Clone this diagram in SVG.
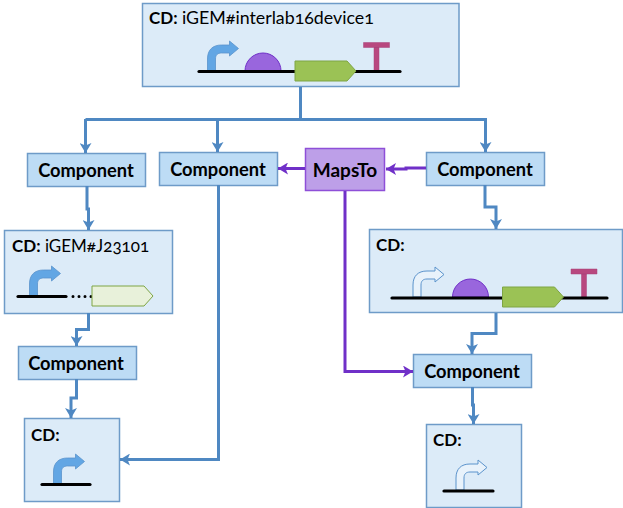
<svg xmlns="http://www.w3.org/2000/svg" width="623" height="508" viewBox="0 0 623 508">
<style>
text{font-family:"Lato","Open Sans","Liberation Sans",sans-serif;fill:#000;font-variant-numeric:oldstyle-nums}
.cd{fill:#dcebf8;stroke:#6e9bc8;stroke-width:1.5}
.comp{fill:#bddcf5;stroke:#6e9bc8;stroke-width:1.5}
.maps{fill:#bd9fe8;stroke:#8e4fd8;stroke-width:1.5}
.t{font-size:18.300px;font-weight:700;text-anchor:middle}
.l{font-size:17px}
.b{font-weight:700}
.bb{stroke:#000;stroke-width:3.200;stroke-linecap:round;fill:none}
.blue{fill:none;stroke:#4f88c2;stroke-width:3}
.purple{fill:none;stroke:#7030c8;stroke-width:3}
.prom{fill:#62a6e4;stroke:#5b93cc;stroke-width:.8}
.open{fill:#e8f2fb;stroke:#5b93cc;stroke-width:1}
.cds{fill:#9bc255;stroke:#7fa544;stroke-width:1}
.rbs{fill:#9966dd;stroke:#7030c8;stroke-width:1}
.term{fill:#b8487f;stroke:#a8437a;stroke-width:.5}
</style>
<defs>
<marker id="ab" markerUnits="userSpaceOnUse" markerWidth="12" markerHeight="12" refX="10" refY="6" orient="auto"><path d="M0 0L10 6L0 12L2.500 6Z" fill="#4f88c2"/></marker>
<marker id="ap" markerUnits="userSpaceOnUse" markerWidth="12" markerHeight="12" refX="10" refY="6" orient="auto"><path d="M0 0L10 6L0 12L2.500 6Z" fill="#7030c8"/></marker>
<path id="pr" d="M0 0V-12C0-21 5-26 14-26H22V-30L31-22.500L22-15V-18H14C10-18 8-16 8-12V0Z"/>
<path id="cdsp" d="M0 0H52L61 10L52 20H0Z"/>
<path id="domep" d="M0 0A18 18 0 0 1 36 0Z"/>
<path id="termp" d="M-13 0H13V5H-13ZM-2.500 5H2.500V29H-2.500Z"/>
</defs>
<g id="n-top">
<rect class="cd" x="142.500" y="3.500" width="316.500" height="83"/>
<text class="l" x="149" y="24"><tspan class="b">CD:</tspan> <tspan font-size="17.800">iGEM#interlab16device1</tspan></text>
<use href="#pr" class="prom" x="207.500" y="71"/>
<use href="#domep" class="rbs" x="245" y="71"/>
<use href="#termp" class="term" x="376.500" y="42.500"/>
<path class="bb" d="M199 71.500H400"/>
<use href="#cdsp" class="cds" x="295" y="61"/>
</g>
<g id="n-comp1"><rect class="comp" x="27.500" y="153.500" width="118" height="33"/><text class="t" x="86" y="176.500">Component</text></g>
<g id="n-comp2"><rect class="comp" x="159.500" y="152.500" width="118" height="33"/><text class="t" x="218" y="175.500">Component</text></g>
<g id="n-maps"><rect class="maps" x="305.500" y="148.500" width="79" height="42"/><text class="t" style="font-size:19px" x="345" y="176.500">MapsTo</text></g>
<g id="n-comp3"><rect class="comp" x="426.500" y="152.500" width="118" height="33"/><text class="t" x="485" y="175.500">Component</text></g>
<g id="n-j23101">
<rect class="cd" x="4.500" y="230.500" width="168" height="83"/>
<text class="l" x="12" y="252"><tspan class="b">CD:</tspan> iGEM#J23101</text>
<use href="#pr" class="prom" x="29.500" y="296"/>
<path class="bb" d="M18 296.500H66"/>
<path d="M73 296.500H92" fill="none" stroke="#000" stroke-width="3" stroke-linecap="round" stroke-dasharray="0 6"/>
<use href="#cdsp" fill="#e8f1da" stroke="#7fa544" x="92" y="286"/>
</g>
<g id="n-comp4"><rect class="comp" x="18.500" y="346.500" width="118" height="33"/><text class="t" x="76" y="369.500">Component</text></g>
<g id="n-cdbl">
<rect class="cd" x="24.500" y="418.500" width="95" height="83"/>
<text class="l b" x="31" y="441">CD:</text>
<use href="#pr" class="prom" x="53.500" y="484"/>
<path class="bb" d="M42 484.500H90"/>
</g>
<g id="n-cdr">
<rect class="cd" x="369.500" y="229.500" width="253" height="83"/>
<text class="l b" x="376" y="251">CD:</text>
<use href="#pr" class="open" x="413" y="297"/>
<use href="#domep" class="rbs" x="452.500" y="297"/>
<use href="#termp" class="term" x="584" y="269"/>
<path class="bb" d="M392 298H607"/>
<use href="#cdsp" class="cds" x="502.500" y="287"/>
</g>
<g id="n-comp5"><rect class="comp" x="413.500" y="354.500" width="118" height="33"/><text class="t" x="472" y="377.500">Component</text></g>
<g id="n-cdbr">
<rect class="cd" x="426.500" y="424.500" width="95" height="83"/>
<text class="l b" x="433" y="446">CD:</text>
<use href="#pr" class="open" x="456" y="490"/>
<path class="bb" d="M444 491H493"/>
</g>
<g id="connectors">
<path class="blue" d="M300.500 87V119.500H85.500"/>
<path class="blue" marker-end="url(#ab)" d="M85.500 119V153"/>
<path class="blue" marker-end="url(#ab)" d="M217.500 119V152"/>
<path class="blue" marker-end="url(#ab)" d="M300 119.500H485.500V152"/>
<path class="blue" marker-end="url(#ab)" d="M87 186V209H88.500V230"/>
<path class="blue" marker-end="url(#ab)" d="M88.500 313V329.500H76.500V346"/>
<path class="blue" marker-end="url(#ab)" d="M76.500 379V398H71V418"/>
<path class="blue" marker-end="url(#ab)" d="M218.500 185V459.500H120"/>
<path class="blue" marker-end="url(#ab)" d="M485 185V207H496V229"/>
<path class="blue" marker-end="url(#ab)" d="M496 313V333.500H472V354"/>
<path class="blue" marker-end="url(#ab)" d="M472.500 387V405H473.500V424"/>
<path class="purple" marker-end="url(#ap)" d="M305 168.500H278"/>
<path class="purple" marker-end="url(#ap)" d="M426 168H406V169H386"/>
<path class="purple" marker-end="url(#ap)" d="M345 191V371.500H413"/>
</g>
</svg>
